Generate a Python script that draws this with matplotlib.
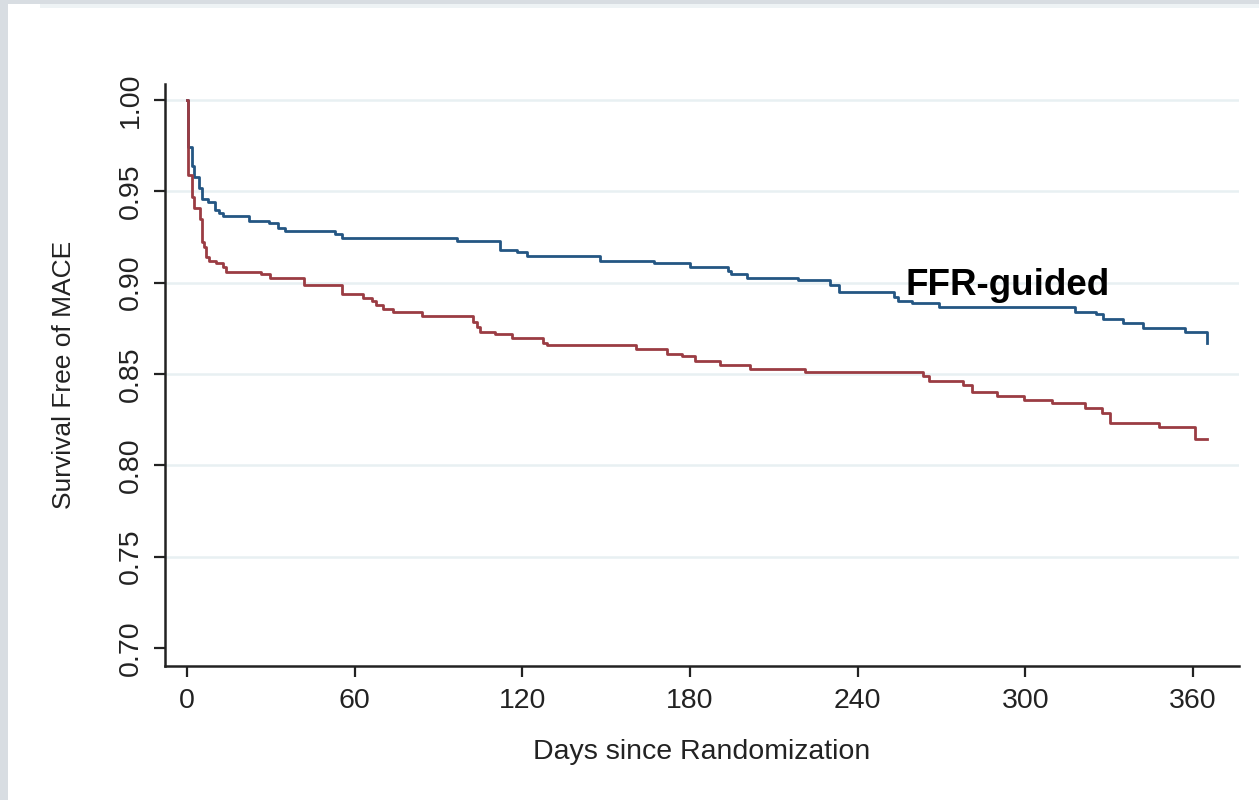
import matplotlib.pyplot as plt
from matplotlib.patches import Rectangle

plt.rcParams['font.family'] = ['Liberation Sans', 'DejaVu Sans']

# Kaplan-Meier step curves, freedom from MACE
ffr_days = [0, 0.5, 1.7, 2.5, 4.4, 5.3, 7.6, 10, 11.6, 13, 22.3, 29.5, 32.7, 35,
            53, 55.4, 96.5, 112, 118, 121.6, 147.8, 167, 180, 193.7, 194.7,
            200.3, 218.8, 230, 233.5, 253, 254.6, 259.4, 269, 317.8, 325.5,
            328, 335, 342, 357, 365, 365]
ffr_surv = [1.0, 0.9745, 0.964, 0.958, 0.952, 0.946, 0.944, 0.940, 0.938, 0.9365,
            0.934, 0.9325, 0.930, 0.928, 0.9266, 0.9243, 0.923, 0.918, 0.9168,
            0.9146, 0.912, 0.911, 0.9084, 0.9065, 0.905, 0.9024, 0.9014, 0.8987,
            0.895, 0.8923, 0.890, 0.889, 0.8865, 0.884, 0.883, 0.880, 0.878,
            0.8753, 0.873, 0.8667, 0.8667]

ang_days = [0, 0.5, 1.7, 2.5, 4.7, 5.3, 6, 6.8, 8, 10.4, 12.8, 14, 26.4, 29.7,
            41.9, 55.4, 62.9, 66.1, 67.6, 70.3, 73.6, 84, 102.2, 103.7, 104.9,
            110.2, 116.2, 127.5, 128.7, 160.7, 171.7, 177, 181.8, 190.8, 201.5,
            221, 263.5, 265.7, 277.6, 280.8, 289.8, 299.4, 309.5, 321.4, 327.4,
            330.3, 348, 360.8, 365.2]
ang_surv = [1.0, 0.959, 0.947, 0.941, 0.935, 0.9224, 0.9197, 0.914, 0.912, 0.911,
            0.9087, 0.906, 0.9047, 0.9024, 0.8987, 0.8938, 0.8914, 0.890, 0.8877,
            0.8854, 0.884, 0.8817, 0.8786, 0.8759, 0.873, 0.8719, 0.8695, 0.8672,
            0.8658, 0.8635, 0.861, 0.860, 0.8573, 0.8549, 0.8525, 0.851, 0.8489,
            0.8463, 0.844, 0.8403, 0.838, 0.836, 0.834, 0.8315, 0.8288, 0.8233,
            0.8208, 0.8145, 0.8145]

x_ticks = [0, 60, 120, 180, 240, 300, 360]
y_ticks = [0.70, 0.75, 0.80, 0.85, 0.90, 0.95, 1.00]

fig = plt.figure(figsize=(12.59, 8.0), dpi=100)
fig.patch.set_facecolor('white')

# grey window frame around the panel
fig.add_artist(Rectangle((0, 0), 8 / 1259, 1, transform=fig.transFigure,
                         color='#d8dde2', lw=0))
fig.add_artist(Rectangle((0, 1 - 4 / 800), 1, 4 / 800, transform=fig.transFigure,
                         color='#d8dde2', lw=0))
fig.add_artist(Rectangle((40 / 1259, 1 - 8 / 800), 1, 4 / 800, transform=fig.transFigure,
                         color='#eef3f5', lw=0))

ax = fig.add_axes([165 / 1259, 1 - 666 / 800, (1239 - 165) / 1259, (666 - 84) / 800])
ax.set_xlim(-7.87, 376.5)
ax.set_ylim(0.6901, 1.00876)

for y in y_ticks[1:]:
    ax.axhline(y, color='#e8f0f2', lw=1.8, zorder=0)

ax.step(ffr_days, ffr_surv, where='post', color='#245683', lw=2.0, zorder=2)
ax.step(ang_days, ang_surv, where='post', color='#9b3c43', lw=2.0, zorder=3)

ax.text(257, 0.8935, 'FFR-guided', fontsize=26.5, fontweight='bold', color='black',
        va='baseline', ha='left')

for side in ['top', 'right']:
    ax.spines[side].set_visible(False)
for side in ['left', 'bottom']:
    ax.spines[side].set_linewidth(1.8)
    ax.spines[side].set_color('#222222')

ax.set_xticks(x_ticks)
ax.set_yticks(y_ticks)
ax.set_yticklabels(['%.2f' % v for v in y_ticks], rotation=90, va='center')
ax.tick_params(axis='both', direction='out', length=8, width=1.6, color='#222222',
               labelsize=20.5, labelcolor='#222222')
ax.tick_params(axis='y', pad=7)
ax.tick_params(axis='x', pad=8)

ax.set_ylabel('Survival Free of MACE', fontsize=19, color='#222222', labelpad=30)
ax.set_xlabel('Days since Randomization', fontsize=20.5, color='#222222', labelpad=18)

fig.savefig('out.png', dpi=100, facecolor=fig.get_facecolor())
